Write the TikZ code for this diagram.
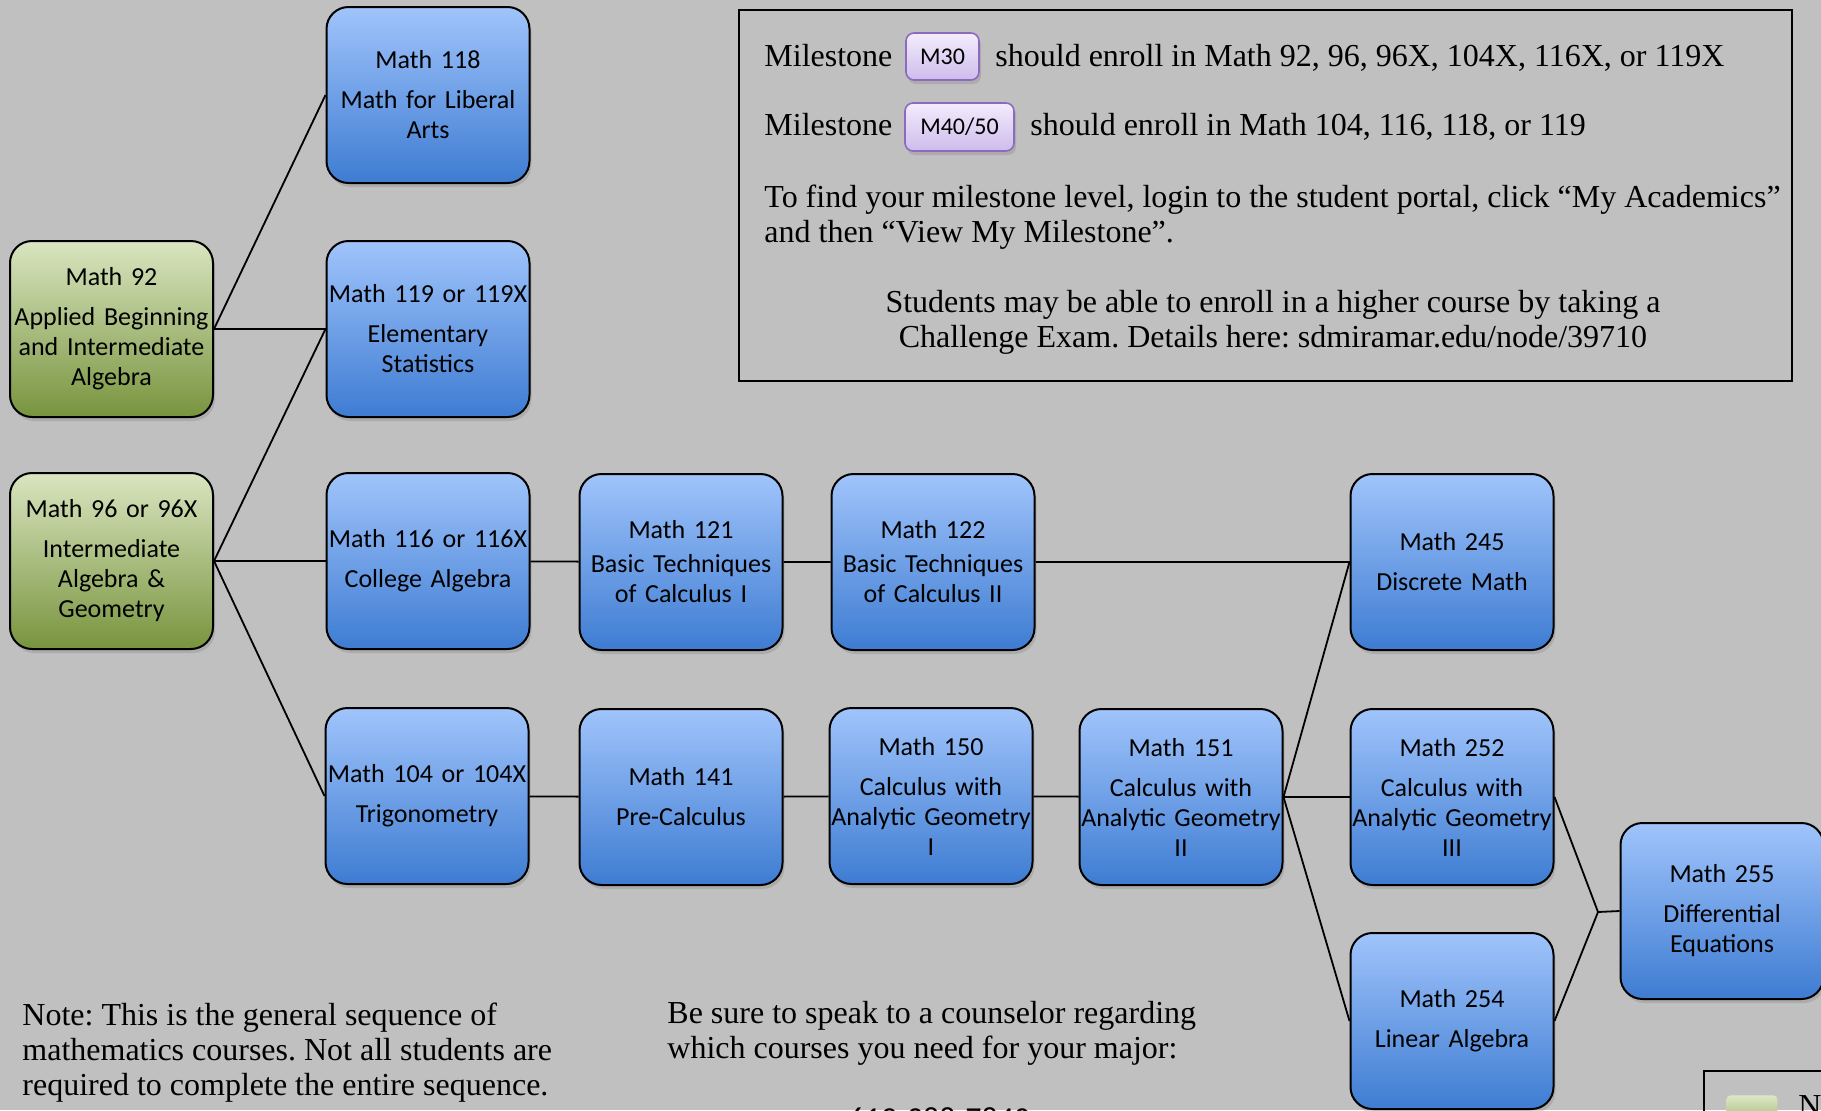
\documentclass[tikz,border=0pt]{standalone}
\usepackage{fontspec}
\setmainfont{Liberation Serif}
\newfontfamily\boxfont{Carlito}
\usepackage{tikz}
\usetikzlibrary{shadows}
\frenchspacing
\definecolor{bggray}{RGB}{192,192,192}
\definecolor{bluetop}{RGB}{160,196,251}
\definecolor{bluebot}{RGB}{62,124,210}
\definecolor{greentop}{RGB}{217,229,192}
\definecolor{greenbot}{RGB}{120,148,62}
\definecolor{lilactop}{RGB}{243,236,252}
\definecolor{lilacbot}{RGB}{206,188,236}
\definecolor{lilacline}{RGB}{140,106,190}

\begin{document}
\begin{tikzpicture}[x=0.5pt,y=-0.5pt]
% Box styles
\tikzset{
  course/.style={draw=black, line width=1pt, rounded corners=11pt,
    minimum width=101.5pt, minimum height=88pt, text width=100pt,
    align=center, inner sep=0pt,
    font=\boxfont\fontsize{13}{15}\selectfont,
    top color=bluetop, bottom color=bluebot,
    drop shadow={shadow xshift=1pt, shadow yshift=-2pt, opacity=0.3}},
  entry/.style={course, top color=greentop, bottom color=greenbot},
  badge/.style={draw=lilacline, line width=0.8pt, rounded corners=4pt,
    inner sep=0pt, font=\boxfont\fontsize{12}{14}\selectfont,
    top color=lilactop, bottom color=lilacbot,
    drop shadow={shadow xshift=1pt, shadow yshift=-2pt, opacity=0.3}},
  prose/.style={font=\fontsize{16}{17.5}\selectfont, inner sep=0pt},
  link/.style={line width=0.9pt}
}
\useasboundingbox (0,0) rectangle (1821,1110);
\clip (0,0) rectangle (1821,1110);
\fill[bggray] (0,0) rectangle (1821,1110);

% Info box
\node[draw=black, line width=1pt, minimum width=526.5pt, minimum height=185.5pt,
  inner sep=0pt] (info) at (1265.5,195.5) {};
\node[prose, anchor=base west] (ms1) at (764,66) {Milestone};
\node[badge, minimum width=36.5pt, minimum height=23.5pt] (m30) at (942.5,56.5) {M30};
\node[prose, anchor=base west] (ms1b) at (995,66) {should enroll in Math 92, 96, 96X, 104X, 116X, or 119X};
\node[prose, anchor=base west] (ms2) at (764,135) {Milestone};
\node[badge, minimum width=54.5pt, minimum height=24pt] (m4050) at (959.5,127) {M40/50};
\node[prose, anchor=base west] (ms2b) at (1030,135) {should enroll in Math 104, 116, 118, or 119};
\node[prose, align=left, anchor=north west] (find) at (764,185)
  {To find your milestone level, login to the student portal, click “My Academics”\\and then “View My Milestone”.};
\node[prose, align=center, anchor=north] (exam) at (1273,290)
  {Students may be able to enroll in a higher course by taking a\\Challenge Exam. Details here: sdmiramar.edu/node/39710};

% Courses
\node[entry] (m92) at (111.5,329) {Math 92\\[5pt]Applied Beginning\\and Intermediate\\Algebra};
\node[entry] (m96) at (111.5,561) {Math 96 or 96X\\[5pt]Intermediate\\Algebra \&\\Geometry};
\node[course] (m118) at (428,95) {Math 118\\[5pt]Math for Liberal\\Arts};
\node[course] (m119) at (428,329) {Math 119 or 119X\\[5pt]Elementary\\Statistics};
\node[course] (m116) at (428,561) {Math 116 or 116X\\[5pt]College Algebra};
\node[course] (m121) at (681,562) {Math 121\\[2pt]Basic Techniques\\of Calculus I};
\node[course] (m122) at (933,562) {Math 122\\[2pt]Basic Techniques\\of Calculus II};
\node[course] (m245) at (1452,562) {Math 245\\[5pt]Discrete Math};
\node[course] (m104) at (427,796) {Math 104 or 104X\\[5pt]Trigonometry};
\node[course] (m141) at (681,797) {Math 141\\[5pt]Pre-Calculus};
\node[course] (m150) at (931,796) {Math 150\\[5pt]Calculus with\\Analytic Geometry\\I};
\node[course] (m151) at (1181,797) {Math 151\\[5pt]Calculus with\\Analytic Geometry\\II};
\node[course] (m252) at (1452,797) {Math 252\\[5pt]Calculus with\\Analytic Geometry\\III};
\node[course] (m254) at (1452,1021) {Math 254\\[5pt]Linear Algebra};
\node[course] (m255) at (1722,911) {Math 255\\[5pt]Differential\\Equations};
\coordinate (j255) at (1598,912);

% Connectors
\draw[link] (m92.east) -- (m118.west);
\draw[link] (m92.east) -- (m119.west);
\draw[link] (m96.east) -- (m119.west);
\draw[link] (m96.east) -- (m116.west);
\draw[link] (m96.east) -- (m104.west);
\draw[link] (m116) -- (m121) -- (m122);
\draw[link] (m122.east) -- (m245.west);
\draw[link] (m104) -- (m141) -- (m150) -- (m151);
\draw[link] (m151.east) -- (m245.west);
\draw[link] (m151.east) -- (m252.west);
\draw[link] (m151.east) -- (m254.west);
\draw[link] (m252.east) -- (j255) -- (m255.west);
\draw[link] (m254.east) -- (j255);

% Notes
\node[prose, align=left, anchor=north west] (note) at (22,1003)
  {Note: This is the general sequence of\\mathematics courses. Not all students are\\required to complete the entire sequence.};
\node[prose, align=left, anchor=north west] (sure) at (667,1001)
  {Be sure to speak to a counselor regarding\\which courses you need for your major:};
\node[anchor=north west, inner sep=0pt, font=\boxfont\fontsize{16}{18}\selectfont] (phone) at (848,1107) {619-388-7840};

% Legend
\node[draw=black, line width=1pt, minimum width=100pt, minimum height=40pt,
  anchor=north west, inner sep=0pt] (legend) at (1703,1070) {};
\node[draw=none, rounded corners=2pt, top color=greentop!90!white, bottom color=greenbot!60!greentop,
  minimum width=25.5pt, minimum height=15pt, anchor=north west, inner sep=0pt] (gswatch) at (1726,1095) {};
\node[prose, anchor=north west] (gtext) at (1798,1095) {No};
\end{tikzpicture}
\end{document}
